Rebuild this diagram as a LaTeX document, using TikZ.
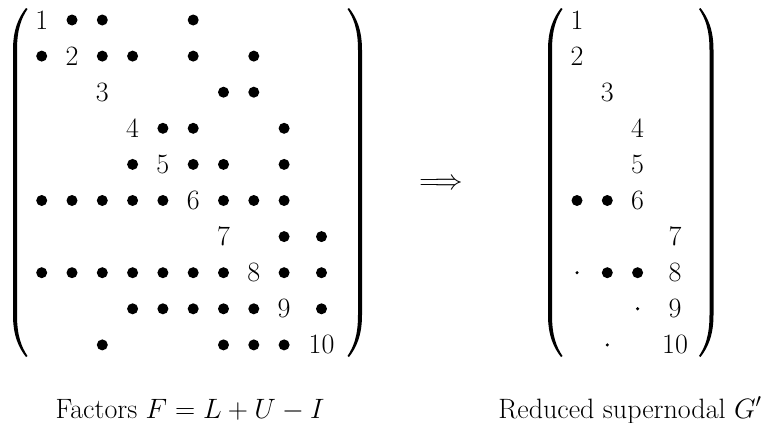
\RequirePackage{fix-cm}
\documentclass[tikz,border=0pt]{standalone}
\newcommand\myparen{\fill (11,8) .. controls (4,17) and (-2,29) .. (-2,50) -- (-2,315) .. controls (-2,336) and (4,348) .. (11,357) -- (12.5,356) .. controls (6.5,347) and (2,336) .. (2,315) -- (2,50) .. controls (2,29) and (6.5,18) .. (12.5,9) -- cycle;}
\tikzset{
  ent/.style={font=\fontsize{28}{34}\selectfont, inner sep=0pt, anchor=center},
  bigdot/.style={circle, fill=black, inner sep=0pt, minimum size=11pt},
  smalldot/.style={circle, fill=black, inner sep=0pt, minimum size=3.4pt},
  captxt/.style={font=\fontsize{28}{34}\selectfont, inner sep=0pt, anchor=base},
}
\begin{document}
\begin{tikzpicture}[x=1pt,y=-1pt]
\useasboundingbox (0,0) rectangle (780,423);
% parentheses
\begin{scope}[shift={(15,0)}] \myparen \end{scope}
\begin{scope}[shift={(360,0)}, xscale=-1] \myparen \end{scope}
\begin{scope}[shift={(550,0)}] \myparen \end{scope}
\begin{scope}[shift={(711.5,0)}, xscale=-1] \myparen \end{scope}
% left matrix: diagonal
\foreach \i in {1,...,10}
  \node[ent] (Ld\i) at ({41.7+30.3*(\i-1)+7.1*(\i==10)}, {20+36.1*(\i-1)}) {\i};
% left matrix: dots
\foreach \r/\c in {1/2,1/3,1/6,
  2/1,2/3,2/4,2/6,2/8,
  3/7,3/8,
  4/5,4/6,4/9,
  5/4,5/6,5/7,5/9,
  6/1,6/2,6/3,6/4,6/5,6/7,6/8,6/9,
  7/9,7/10,
  8/1,8/2,8/3,8/4,8/5,8/6,8/7,8/9,8/10,
  9/4,9/5,9/6,9/7,9/8,9/10,
  10/3,10/7,10/8,10/9}
  \node[bigdot] (L\r-\c) at ({41.7+30.3*(\c-1)+7.1*(\c==10)}, {20+36.1*(\r-1)}) {};
% right matrix: diagonal
\foreach \n/\c in {1/1,2/1,3/2,4/3,5/3,6/3,7/4,8/4,9/4,10/4}
  \node[ent] (Rd\n) at ({577+30.3*(\c-1)+7.1*(\c==4)}, {20+36.1*(\n-1)}) {\n};
\foreach \r/\c in {6/1,6/2,8/2,8/3}
  \node[bigdot] (R\r-\c) at ({577+30.3*(\c-1)}, {20+36.1*(\r-1)}) {};
\foreach \r/\c in {8/1,9/3,10/2}
  \node[smalldot] (Rs\r-\c) at ({577+30.3*(\c-1)}, {20+36.1*(\r-1)}) {};
% arrow
\node[ent] (arr) at (441,184) {$\Longrightarrow$};
% captions
\node[captxt] (capL) at (190,418) {Factors $F = L + U - I$};
\node[captxt] (capR) at (630,418) {Reduced supernodal $G'$};
\end{tikzpicture}
\end{document}
